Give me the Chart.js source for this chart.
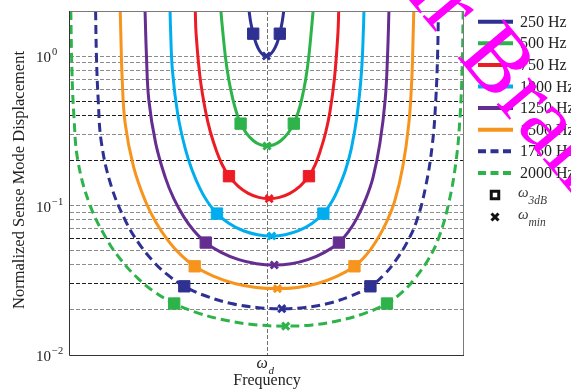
<!DOCTYPE html>
<html>
<head>
<meta charset="utf-8">
<script src="https://cdn.jsdelivr.net/npm/chart.js@4.4.0/dist/chart.umd.min.js"></script>
<style>
html,body{margin:0;padding:0;background:#fff;}
#wrap{width:571px;height:392px;position:relative;}
</style>
</head>
<body>
<div id="wrap"><canvas id="c" width="571" height="392"></canvas></div>
<script>
// ---------- data ----------
const seriesLabels = ['250 Hz','500 Hz','750 Hz','1000 Hz','1250 Hz','1500 Hz','1750 Hz','2000 Hz'];
const seriesColors = ['#2e3192','#2db34a','#ed1c24','#00aeef','#662d91','#f7941d','#2e3192','#2db34a'];
const seriesDashed = [false,false,false,false,false,false,true,true];

// x: frequency offset from the drive frequency (Hz), y: normalized displacement
const x250  = [-91,-83,-70,-55,-38,-20,-3,14,32,50,65,77,85];
const y250  = [2.0,1.69,1.41,1.21,1.085,1.02,1.0,1.02,1.085,1.21,1.41,1.69,2.0];
const x500  = [-234,-228,-210,-194,-174,-156,-134,-104,-69,-35,0,35,70,106,136,159,177,196,211,228,234];
const y500  = [2.0,1.628,0.96,0.694,0.519,0.424,0.353,0.304,0.271,0.255,0.25,0.255,0.271,0.304,0.353,0.424,0.519,0.694,0.96,1.628,2.0];
const x750  = [-364,-360,-340,-312,-287,-256,-228,-193,-147,-95,-42,11,63,116,168,213,245,270,298,320,343,360,364];
const y750  = [2.0,1.418,0.723,0.427,0.309,0.231,0.188,0.157,0.135,0.1205,0.1133,0.1111,0.1133,0.1205,0.135,0.157,0.188,0.231,0.309,0.427,0.723,1.418,2.0];
const x1000 = [-492,-490,-480,-453,-415,-381,-340,-302,-254,-192,-120,-48,24,92,160,228,286,329,362,399,428,458,480,490,492];
const y1000 = [2.0,1.578,0.798,0.407,0.24,0.1736,0.1298,0.1059,0.0883,0.0759,0.0678,0.0638,0.0625,0.0638,0.0678,0.0759,0.0883,0.1059,0.1298,0.1736,0.24,0.407,0.798,1.578,2.0];
const x1250 = [-619,-612,-600,-565,-516,-473,-420,-371,-311,-233,-143,-53,37,123,207,292,365,417,458,502,538,573,600,612,619];
const y1250 = [2.0,1.01,0.51,0.2604,0.1536,0.1111,0.083,0.0678,0.0565,0.0486,0.0434,0.0408,0.04,0.0408,0.0434,0.0486,0.0565,0.0678,0.083,0.1111,0.1536,0.2604,0.51,1.01,2.0];
const x1500 = [-745,-742,-735,-720,-677,-617,-564,-500,-440,-367,-273,-164,-55,53,155,256,357,444,506,554,606,648,689,720,735,742,745];
const y1500 = [2.0,1.396,0.701,0.3545,0.1808,0.1067,0.0772,0.0577,0.0471,0.0392,0.0337,0.0301,0.0283,0.0278,0.0283,0.0301,0.0337,0.0392,0.0471,0.0577,0.0772,0.1067,0.1808,0.3545,0.701,1.396,2.0];
const x1750 = [-870,-866,-857,-840,-789,-717,-654,-578,-507,-420,-310,-181,-52,75,193,309,426,525,596,651,711,759,805,840,857,866,870];
const y1750 = [2.0,1.026,0.515,0.2604,0.1329,0.0784,0.0567,0.0424,0.0346,0.0288,0.0248,0.0221,0.0208,0.0204,0.0208,0.0221,0.0248,0.0288,0.0346,0.0424,0.0567,0.0784,0.1329,0.2604,0.515,1.026,2.0];
const x2000 = [-996,-990,-980,-960,-900,-815,-742,-654,-572,-471,-345,-198,-50,95,230,362,496,609,689,750,818,870,921,960,980,990,996];
const y2000 = [2.0,0.785,0.3945,0.1994,0.1017,0.06,0.0434,0.0324,0.0265,0.0221,0.019,0.01695,0.0159,0.0156,0.0159,0.01695,0.019,0.0221,0.0265,0.0324,0.0434,0.06,0.1017,0.1994,0.3945,0.785,2.0];

const curvesX = [x250,x500,x750,x1000,x1250,x1500,x1750,x2000];
const curvesY = [y250,y500,y750,y1000,y1250,y1500,y1750,y2000];

// 3 dB points and minimum points
const sqLeftX  = [-70,-134,-193,-254,-311,-367,-420,-471];
const sqRightX = [65,136,213,286,365,444,525,609];
const sqY      = [1.41,0.353,0.157,0.0883,0.0565,0.0392,0.0288,0.0221];
const minX     = [-3,0,11,24,37,53,75,95];
const minY     = [1.0,0.25,0.1111,0.0625,0.04,0.0278,0.0204,0.0156];

// axes
const yGridValues = [0.02,0.03,0.04,0.05,0.06,0.07,0.08,0.09,0.1,0.2,0.3,0.4,0.5,0.6,0.7,0.8,0.9,1];
const yGridDark   = [0.5,0.4,0.2,0.06,0.03];
const yTickValues = [1,0.1,0.01];
const yTickBase   = '10';
const yTickExp    = ['0','\u22121','\u22122'];
const xTickValues = [0];
const xTickMain   = '\u03c9';
const xTickSub    = 'd';
const xTitle = 'Frequency';
const yTitle = 'Normalized Sense Mode Displacement';
const markerLabels = [['\u03c9','3dB'],['\u03c9','min']];
const watermark = 'air Brain';

// ---------- build datasets ----------
const datasets = [];
curvesX.forEach((xs,i)=>{
  datasets.push({
    label: seriesLabels[i],
    data: xs.map((x,j)=>({x:x,y:curvesY[i][j]})),
    borderColor: seriesColors[i],
    borderWidth: 3,
    borderDash: seriesDashed[i] ? [9,5] : [],
    pointRadius: 0,
    fill: false,
    tension: 0.4,
    order: 2
  });
});
curvesX.forEach((xs,i)=>{
  datasets.push({
    label: seriesLabels[i] + ' 3dB',
    data: [{x:sqLeftX[i],y:sqY[i]},{x:sqRightX[i],y:sqY[i]}],
    showLine: false,
    pointStyle: 'rect',
    pointRadius: 8,
    pointBackgroundColor: seriesColors[i],
    pointBorderColor: seriesColors[i],
    pointBorderWidth: 1,
    order: 1
  });
  datasets.push({
    label: seriesLabels[i] + ' min',
    data: [{x:minX[i],y:minY[i]}],
    showLine: false,
    pointStyle: 'crossRot',
    pointRadius: 5,
    pointBorderColor: seriesColors[i],
    pointBorderWidth: 3,
    order: 1
  });
});

const SERIF = '"Liberation Serif","DejaVu Serif",serif';

const deco = {
  id: 'deco',
  beforeDraw(chart){
    const ctx = chart.ctx;
    ctx.save(); ctx.fillStyle = '#fff'; ctx.fillRect(0,0,chart.width,chart.height); ctx.restore();
  },
  afterDatasetsDraw(chart){
    const ctx = chart.ctx, ca = chart.chartArea;
    ctx.save();
    ctx.lineWidth = 1;
    ctx.strokeStyle = '#7a7a7a';
    ctx.beginPath();
    ctx.moveTo(ca.left-0.5, ca.top+0.5); ctx.lineTo(ca.right-0.5, ca.top+0.5); ctx.lineTo(ca.right-0.5, ca.bottom+0.5);
    ctx.stroke();
    ctx.strokeStyle = '#333';
    ctx.beginPath();
    ctx.moveTo(ca.left-0.5, ca.top); ctx.lineTo(ca.left-0.5, ca.bottom+0.5); ctx.lineTo(ca.right, ca.bottom+0.5);
    ctx.stroke();
    ctx.restore();
  },
  afterDraw(chart){
    const ctx = chart.ctx, ca = chart.chartArea;
    const ys = chart.scales.y, xs = chart.scales.x;
    ctx.save();
    ctx.fillStyle = '#222';
    ctx.textBaseline = 'alphabetic';
    // y tick labels
    yTickValues.forEach((v,i)=>{
      const py = ys.getPixelForValue(v);
      ctx.font = '15px ' + SERIF;
      ctx.textAlign = 'left';
      ctx.fillText(yTickBase, 36, py+6);
      const w = ctx.measureText(yTickBase).width;
      ctx.font = '10.5px ' + SERIF;
      ctx.fillText(yTickExp[i], 36+w+1, py-1);
    });
    // x tick label
    xTickValues.forEach(v=>{
      const px = xs.getPixelForValue(v);
      ctx.font = 'italic 16px ' + SERIF;
      ctx.textAlign = 'left';
      ctx.fillText(xTickMain, px-10.5, 368);
      ctx.font = 'italic 11px ' + SERIF;
      ctx.fillText(xTickSub, px+1.5, 373.5);
    });
    // axis titles
    ctx.font = '16px ' + SERIF;
    ctx.textAlign = 'center';
    ctx.fillText(xTitle, (ca.left+ca.right)/2, 385);
    ctx.save();
    ctx.translate(20, 180);
    ctx.rotate(-Math.PI/2);
    ctx.font = '16.5px ' + SERIF;
    ctx.textBaseline = 'middle';
    ctx.fillText(yTitle, 0, 0);
    ctx.restore();
    // legend
    const lx0 = 478, lx1 = 513, tx = 520, y0 = 21.7, dy = 21.6;
    seriesLabels.forEach((lab,i)=>{
      const yy = y0 + i*dy;
      ctx.save();
      ctx.strokeStyle = seriesColors[i];
      ctx.lineWidth = 4;
      ctx.setLineDash(seriesDashed[i] ? [8,4.5] : []);
      ctx.beginPath(); ctx.moveTo(lx0, yy); ctx.lineTo(lx1, yy); ctx.stroke();
      ctx.restore();
      ctx.font = '16px ' + SERIF;
      ctx.textAlign = 'left';
      ctx.fillStyle = '#222';
      ctx.fillText(lab, tx, yy+5);
    });
    const mY = [195, 217];
    ctx.save();
    ctx.strokeStyle = '#111'; ctx.lineWidth = 3;
    ctx.strokeRect(495-3.75, mY[0]-3.75, 7.5, 7.5);
    ctx.beginPath();
    ctx.moveTo(495-3.5, mY[1]-3.5); ctx.lineTo(495+3.5, mY[1]+3.5);
    ctx.moveTo(495+3.5, mY[1]-3.5); ctx.lineTo(495-3.5, mY[1]+3.5);
    ctx.stroke();
    ctx.restore();
    markerLabels.forEach((ml,i)=>{
      ctx.fillStyle = '#3a3a3a';
      ctx.textAlign = 'left';
      ctx.font = 'italic 15px ' + SERIF;
      ctx.fillText(ml[0], 518, mY[i]+1.5);
      ctx.font = 'italic 11.5px ' + SERIF;
      ctx.fillText(ml[1], 528.5, mY[i]+8.5);
    });
    // watermark overlay
    ctx.save();
    ctx.fillStyle = '#ff00ff';
    ctx.font = '92px ' + SERIF;
    ctx.textAlign = 'left';
    ctx.translate(456, 56);
    ctx.rotate(50*Math.PI/180);
    const pre = ctx.measureText('air ').width;
    ctx.fillText(watermark, -pre, 0);
    ctx.restore();
    ctx.restore();
  }
};

new Chart(document.getElementById('c'), {
  type: 'line',
  data: { datasets: datasets },
  options: {
    responsive: false,
    animation: false,
    events: [],
    devicePixelRatio: 1,
    layout: { padding: { top: 11, right: 107, left: 0, bottom: 0 } },
    plugins: { legend: { display: false }, tooltip: { enabled: false } },
    scales: {
      x: {
        type: 'linear', min: -1000, max: 1000,
        afterBuildTicks: s => { s.ticks = xTickValues.map(v=>({value:v})); },
        afterFit: s => { s.height = 37; },
        ticks: { display: false },
        grid: { color: '#707070', lineWidth: 1, drawTicks: false },
        border: { display: false, dash: [4,2] }
      },
      y: {
        type: 'logarithmic', min: 0.01, max: 2,
        afterBuildTicks: s => { s.ticks = yGridValues.map(v=>({value:v})); },
        afterFit: s => { s.width = 70; },
        ticks: { display: false },
        grid: {
          color: c => (c.tick && yGridDark.indexOf(c.tick.value) >= 0) ? '#1e1e1e' : '#8c8c8c',
          lineWidth: 1, drawTicks: false
        },
        border: { display: false, dash: [4,2] }
      }
    }
  },
  plugins: [deco]
});
</script>
</body>
</html>
